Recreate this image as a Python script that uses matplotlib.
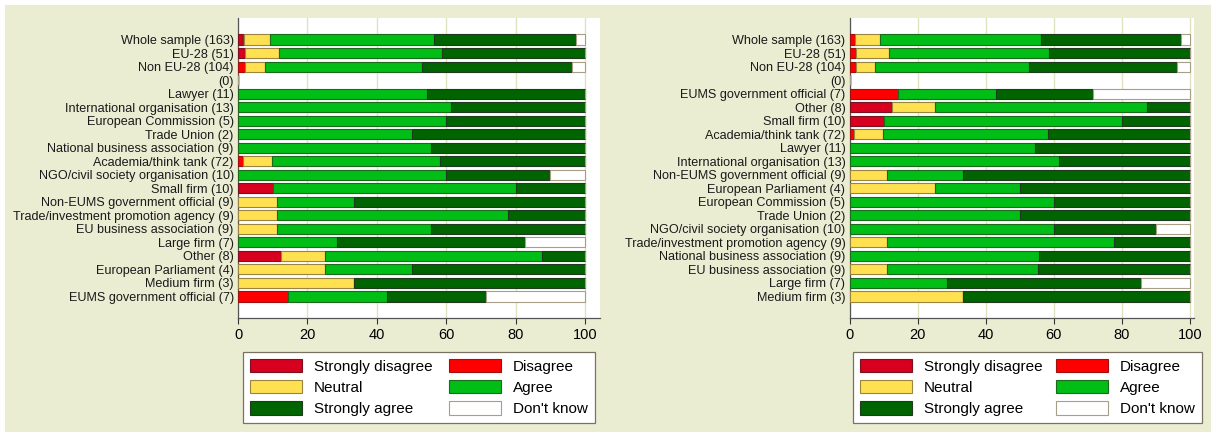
import numpy as np
import matplotlib
matplotlib.use("Agg")
import matplotlib.pyplot as plt
from matplotlib.patches import Patch, Rectangle

plt.rcParams['font.family'] = ['Liberation Sans', 'DejaVu Sans']

# --- data (percent of respondents) ---
responses = ['Strongly disagree', 'Disagree', 'Neutral', 'Agree', 'Strongly agree', "Don't know"]

left_labels = ['Whole sample (163)', 'EU-28 (51)', 'Non EU-28 (104)', '(0)', 'Lawyer (11)',
               'International organisation (13)', 'European Commission (5)', 'Trade Union (2)',
               'National business association (9)', 'Academia/think tank (72)',
               'NGO/civil society organisation (10)', 'Small firm (10)',
               'Non-EUMS government official (9)', 'Trade/investment promotion agency (9)',
               'EU business association (9)', 'Large firm (7)', 'Other (8)',
               'European Parliament (4)', 'Medium firm (3)', 'EUMS government official (7)']
left_sd = [1.2, 2.0, 0, 0, 0, 0, 0, 0, 0, 0, 0, 10.0, 0, 0, 0, 0, 12.5, 0, 0, 0]
left_d = [0.6, 0, 1.9, 0, 0, 0, 0, 0, 0, 1.4, 0, 0, 0, 0, 0, 0, 0, 0, 0, 14.3]
left_n = [7.4, 9.8, 5.8, 0, 0, 0, 0, 0, 0, 8.3, 0, 0, 11.1, 11.1, 11.1, 0, 12.5, 25.0, 33.3, 0]
left_a = [47.2, 47.1, 45.2, 0, 54.5, 61.5, 60.0, 50.0, 55.6, 48.6, 60.0, 70.0, 22.2, 66.7,
          44.4, 28.6, 62.5, 25.0, 0, 28.6]
left_sa = [41.1, 41.1, 43.3, 0, 45.5, 38.5, 40.0, 50.0, 44.4, 41.7, 30.0, 20.0, 66.7, 22.2,
           44.5, 54.0, 12.5, 50.0, 66.7, 28.6]
left_dk = [2.5, 0, 3.8, 0, 0, 0, 0, 0, 0, 0, 10.0, 0, 0, 0, 0, 17.4, 0, 0, 0, 28.5]

right_labels = ['Whole sample (163)', 'EU-28 (51)', 'Non EU-28 (104)', '(0)',
                'EUMS government official (7)', 'Other (8)', 'Small firm (10)',
                'Academia/think tank (72)', 'Lawyer (11)', 'International organisation (13)',
                'Non-EUMS government official (9)', 'European Parliament (4)',
                'European Commission (5)', 'Trade Union (2)',
                'NGO/civil society organisation (10)', 'Trade/investment promotion agency (9)',
                'National business association (9)', 'EU business association (9)',
                'Large firm (7)', 'Medium firm (3)']
right_sd = [0, 0, 0, 0, 0, 12.5, 10.0, 0, 0, 0, 0, 0, 0, 0, 0, 0, 0, 0, 0, 0]
right_d = [1.6, 1.8, 1.9, 0, 14.3, 0, 0, 1.4, 0, 0, 0, 0, 0, 0, 0, 0, 0, 0, 0, 0]
right_n = [7.4, 9.8, 5.5, 0, 0, 12.5, 0, 8.3, 0, 0, 11.1, 25.0, 0, 0, 0, 11.1, 0, 11.1, 0, 33.3]
right_a = [47.3, 47.1, 45.4, 0, 28.6, 62.5, 70.0, 48.6, 54.5, 61.5, 22.2, 25.0, 60.0, 50.0,
           60.0, 66.7, 55.6, 44.4, 28.6, 0]
right_sa = [41.2, 41.3, 43.4, 0, 28.6, 12.5, 20.0, 41.7, 45.5, 38.5, 66.7, 50.0, 40.0, 50.0,
            30.0, 22.2, 44.4, 44.5, 57.1, 66.7]
right_dk = [2.5, 0, 3.8, 0, 28.5, 0, 0, 0, 0, 0, 0, 0, 0, 0, 10.0, 0, 0, 0, 14.3, 0]

colors = ['#D7001F', '#FF0000', '#FFE050', '#00BE16', '#006400', '#FFFFFF']
edges = ['#7A1020', '#A01010', '#9A8540', '#1A6A1A', '#1F3A1F', '#A89E86']

bg = '#EBEDD3'
W, H = 1211, 432

fig = plt.figure(figsize=(W / 100, H / 100), dpi=100, facecolor='white')
fig.patches.append(Rectangle((5 / W, 0), 1, 1 - 5 / H, transform=fig.transFigure,
                             facecolor=bg, edgecolor='none', zorder=-10))


def panel(px0, px100, pxright, labels, series, leg_x0, leg_x1):
    top, bottom = 18, 318
    x_end = 100 * (pxright - px0) / (px100 - px0)
    ax = fig.add_axes([px0 / W, 1 - bottom / H, (pxright - px0) / W, (bottom - top) / H])
    ax.set_facecolor('white')
    y = np.arange(len(labels))
    left = np.zeros(len(labels))
    for vals, c, e in zip(series, colors, edges):
        vals = np.array(vals, dtype=float)
        ax.barh(y, vals, left=left, height=0.76, color=c, edgecolor=e, linewidth=0.8, zorder=3)
        left += vals
    ax.set_xlim(0, x_end)
    ax.set_ylim(len(labels) - 1 + 1.6, -1.6)
    ax.set_yticks(y)
    ax.set_yticklabels(labels, fontsize=9.1, color='#1a1a1a')
    ax.tick_params(axis='y', length=0, pad=3)
    ax.set_xticks([0, 20, 40, 60, 80, 100])
    ax.tick_params(axis='x', labelsize=10.5, length=4, color='#333333', pad=3)
    ax.xaxis.grid(True, color='#E0E3BE', linewidth=1.0, zorder=0)
    ax.set_axisbelow(True)
    for s in ['top', 'right']:
        ax.spines[s].set_visible(False)
    for s in ['left', 'bottom']:
        ax.spines[s].set_color('#555555')
        ax.spines[s].set_linewidth(0.9)

    order = [0, 2, 4, 1, 3, 5]
    handles = [Patch(facecolor=colors[i], edgecolor=edges[i], linewidth=0.8) for i in order]
    names = [responses[i] for i in order]
    leg = ax.legend(handles, names, ncol=2, loc='upper left', mode='expand',
                    bbox_to_anchor=(leg_x0 / W, 1 - 422 / H, (leg_x1 - leg_x0) / W, 70 / H),
                    bbox_transform=fig.transFigure, fontsize=11, fancybox=False,
                    framealpha=1, edgecolor='#7A7260', handlelength=3.4, handleheight=0.95,
                    handletextpad=0.8, labelspacing=0.42, columnspacing=1.0,
                    borderpad=0.45, borderaxespad=0)
    leg.get_frame().set_linewidth(0.9)
    return ax


panel(238, 585, 600, left_labels,
      [left_sd, left_d, left_n, left_a, left_sa, left_dk], 243, 595)
panel(849.6, 1189.8, 1194, right_labels,
      [right_sd, right_d, right_n, right_a, right_sa, right_dk], 853, 1202)

fig.savefig('out.png', dpi=100, facecolor='white')
